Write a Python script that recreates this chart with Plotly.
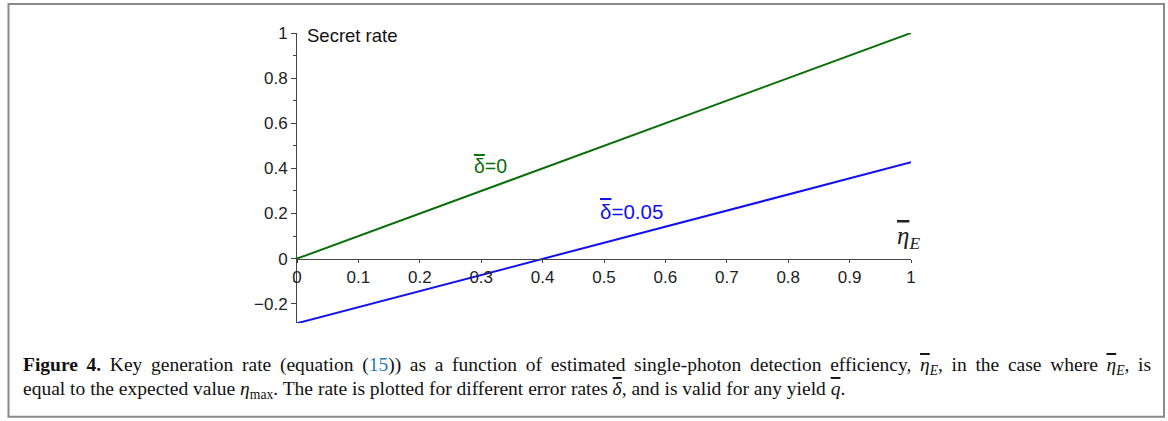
import plotly.graph_objects as go

# Data
eta = [0.0, 0.5, 1.0]
rate_delta0 = [0.0, 0.5, 1.0]
rate_delta005 = [-0.286, 0.070, 0.427]
x_ticks = [0, 0.1, 0.2, 0.3, 0.4, 0.5, 0.6, 0.7, 0.8, 0.9, 1]
x_ticklabels = ["0", "0.1", "0.2", "0.3", "0.4", "0.5", "0.6", "0.7", "0.8", "0.9", "1"]
y_ticks = [-0.2, 0, 0.2, 0.4, 0.6, 0.8, 1]
y_ticklabels = ["\u22120.2", "0", "0.2", "0.4", "0.6", "0.8", "1"]

W, H = 1168, 421
L, R, T, B = 297, 257, 33, 97.5
YMIN, YMAX = -0.285, 1.0
plot_w = W - L - R
plot_h = H - T - B


def px_to_paper_x(px):
    return (px - L) / plot_w


def py_to_paper_y(py):
    return (H - B - py) / plot_h


OV = "<span style='text-decoration:overline'>{}</span>"

fig = go.Figure()
fig.add_trace(go.Scatter(x=eta, y=rate_delta0, mode="lines",
                         line=dict(color="#0a6e0a", width=2), showlegend=False))
fig.add_trace(go.Scatter(x=eta, y=rate_delta005, mode="lines",
                         line=dict(color="#1010f0", width=2), showlegend=False))

axis_font = dict(family="Liberation Sans, Arial, sans-serif", size=17, color="#222")

fig.update_layout(
    width=W, height=H,
    margin=dict(l=L, r=R, t=T, b=B, pad=0),
    paper_bgcolor="white", plot_bgcolor="white",
    xaxis=dict(range=[0, 1], tickvals=x_ticks, ticktext=x_ticklabels,
               showgrid=False, zeroline=False, showline=True, linecolor="#444",
               linewidth=1, ticks="outside", ticklen=3, tickcolor="#444",
               tickfont=axis_font, anchor="free",
               position=(0 - YMIN) / (YMAX - YMIN)),
    yaxis=dict(range=[YMIN, YMAX], tickvals=y_ticks, ticktext=y_ticklabels,
               showgrid=False, zeroline=False, showline=True, linecolor="#444",
               linewidth=1, ticks="outside", ticklen=5, tickcolor="#444",
               tickfont=axis_font,
               minor=dict(tickvals=[-0.1, 0.1, 0.3, 0.5, 0.7, 0.9],
                          ticks="outside", ticklen=3, tickcolor="#444")),
)

# Axis titles
fig.add_annotation(x=0, y=1.0, xref="x", yref="y", text="Secret rate",
                   showarrow=False, xanchor="left", yanchor="middle", xshift=8, yshift=-2,
                   font=dict(family="Liberation Sans, Arial, sans-serif", size=18.5, color="#111"))
fig.add_annotation(x=1, y=0, xref="x", yref="y",
                   text="<i>" + OV.format("\u03b7") + "</i><sub><i>E</i></sub>",
                   showarrow=False, xanchor="right", yanchor="bottom", xshift=11, yshift=4,
                   font=dict(family="Liberation Serif, Times New Roman, serif", size=25, color="#222"))

# Curve labels
fig.add_annotation(x=0.315, y=0.41, xref="x", yref="y", text=OV.format("\u03b4") + "=0",
                   showarrow=False, xanchor="center", yanchor="middle",
                   font=dict(family="Liberation Sans, Arial, sans-serif", size=19.5, color="#0a6e0a"))
fig.add_annotation(x=0.545, y=0.21, xref="x", yref="y", text=OV.format("\u03b4") + "=0.05",
                   showarrow=False, xanchor="center", yanchor="middle",
                   font=dict(family="Liberation Sans, Arial, sans-serif", size=20.5, color="#1010f0"))

# Caption
cap_font = dict(family="Liberation Serif, Times New Roman, serif", size=19.5, color="#111")
line1 = ("<span style='word-spacing:3.8px'><b>Figure 4.</b> Key generation rate (equation "
         "(<span style='color:#2a7ab8'>15</span>)) "
         "as a function of estimated single-photon detection efficiency, "
         "<i>" + OV.format("\u03b7") + "</i><sub><i>E</i></sub>, in the case where "
         "<i>" + OV.format("\u03b7") + "</i><sub><i>E</i></sub>, is</span>")
line2 = ("equal to the expected value <i>\u03b7</i><sub>max</sub>. The rate is plotted for different "
         "error rates <i>" + OV.format("\u03b4") + "</i>, and is valid for any yield <i>"
         + OV.format("q") + "</i>.")
fig.add_annotation(x=px_to_paper_x(21), y=py_to_paper_y(367), xref="paper", yref="paper",
                   text=line1, showarrow=False, xanchor="left", yanchor="middle", font=cap_font)
fig.add_annotation(x=px_to_paper_x(21), y=py_to_paper_y(391), xref="paper", yref="paper",
                   text=line2, showarrow=False, xanchor="left", yanchor="middle", font=cap_font)

# Frame around figure
fig.add_shape(type="rect", xref="paper", yref="paper",
              x0=px_to_paper_x(8.5), x1=px_to_paper_x(1164),
              y0=py_to_paper_y(417.5), y1=py_to_paper_y(4),
              line=dict(color="#8a8a8a", width=2), fillcolor="rgba(0,0,0,0)", layer="below")

fig.write_html("out.html", config={"displayModeBar": False},
               post_script="document.body.style.margin='0';document.body.style.overflow='hidden';")
